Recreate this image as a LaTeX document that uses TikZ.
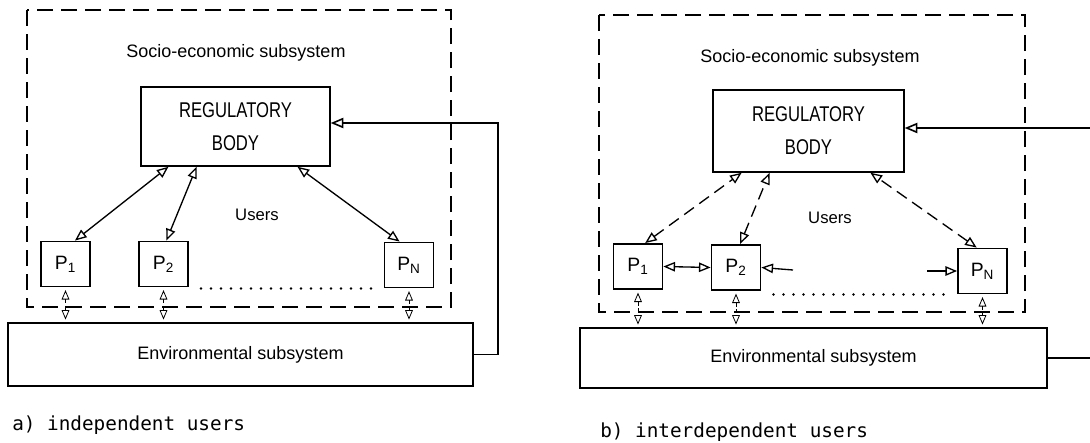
\documentclass[tikz,border=0pt]{standalone}
\usepackage{fontspec}
\setmainfont{Liberation Sans}
\setmonofont{DejaVu Sans Mono}
\usetikzlibrary{arrows}
\newcommand{\regtext}[1]{\scalebox{0.78}[1]{\fontsize{16}{19}\selectfont #1}}
\tikzstyle{box} = [draw, line width=1.2pt, inner sep=0pt, align=center, font=\fontsize{13.5}{16}\selectfont]
\tikzstyle{pbox} = [box, minimum width=37pt, minimum height=34pt, font=\fontsize{14.5}{16}\selectfont]
\tikzstyle{frame} = [line width=1.3pt, dash pattern=on 12pt off 6pt]
\tikzstyle{link} = [line width=1pt, open triangle 45-open triangle 45]
\tikzstyle{flow} = [line width=1pt, -open triangle 45]
\tikzstyle{dlink} = [link, dash pattern=on 9pt off 5pt]
\tikzstyle{vlink} = [line width=0.6pt, densely dashed, open triangle 45-open triangle 45, shorten >=2pt, shorten <=2pt]
\tikzstyle{dots} = [line width=2pt, line cap=round, dash pattern=on 0pt off 7.5pt]
\tikzstyle{txt} = [inner sep=0pt, font=\fontsize{13.5}{16}\selectfont]
\tikzstyle{caption} = [anchor=west, inner sep=0pt, font=\ttfamily\fontsize{14.5}{17}\selectfont]

\begin{document}
\begin{tikzpicture}[x=0.75pt,y=0.75pt,yscale=-1,xscale=1]
\useasboundingbox (0,0) rectangle (1090,443);

%%%% a) independent users
%Shape: Rectangle [socio-economic subsystem]
\draw [frame] (27,10) rectangle (451,307) ;
% Text Node
\node [txt] (seA) at (236,53) {Socio-economic subsystem};
\node [txt, font=\fontsize{12.5}{15}\selectfont] (usersA) at (257,215) {Users};
%Shape: Rectangle
\node [box, minimum width=141.75pt, minimum height=59.25pt] (regA) at (235.5,126.5) {\regtext{REGULATORY}\\[8.75pt]\regtext{BODY}};
\node [pbox] (p1A) at (65.5,264) {P\textsubscript{1}};
\node [pbox] (p2A) at (163.5,264) {P\textsubscript{2}};
\node [pbox] (pnA) at (409,265) {P\textsubscript{N}};
\node [box, minimum width=348.75pt, minimum height=47.25pt] (envA) at (240.5,354.5) {Environmental subsystem};
%Straight Lines
\draw [link] (p1A.68) -- (regA.211) ;
\draw [link] (p2A.83) -- (regA.226) ;
\draw [link] (pnA.112) -- (regA.327) ;
\draw [dots] ([xshift=9pt]p2A.south east |- pnA.south west) -- ([xshift=-9pt]pnA.south west) ;
\draw [vlink] (p1A.south) -- (p1A.south |- envA.north) ;
\draw [vlink] (p2A.south) -- (p2A.south |- envA.north) ;
\draw [vlink] (pnA.south) -- (pnA.south |- envA.north) ;
% feedback
\coordinate (fbA) at (498,123);
\draw [flow, line width=1.2pt] (envA.east) -| (fbA) -- (fbA -| regA.east) ;
% Text Node
\node [caption] (capA) at (12,425) {a) independent users};

%%%% b) interdependent users
%Shape: Rectangle [socio-economic subsystem]
\draw [frame] (599,15) rectangle (1025,312) ;
% Text Node
\node [txt] (seB) at (810,58) {Socio-economic subsystem};
\node [txt, font=\fontsize{12.5}{15}\selectfont] (usersB) at (830,218) {Users};
%Shape: Rectangle
\node [box, minimum width=143.25pt, minimum height=61.5pt] (regB) at (808.5,131) {\regtext{REGULATORY}\\[8.75pt]\regtext{BODY}};
\node [pbox] (p1B) at (638,266.5) {P\textsubscript{1}};
\node [pbox] (p2B) at (736,267.5) {P\textsubscript{2}};
\node [pbox] (pnB) at (982.5,271) {P\textsubscript{N}};
\node [box, minimum width=350.25pt, minimum height=45pt] (envB) at (813.5,358) {Environmental subsystem};
%Straight Lines
\draw [dlink] (p1B.73) -- (regB.212) ;
\draw [dlink] (p2B.80) -- (regB.227) ;
\draw [dlink] (pnB.104) -- (regB.326) ;
\draw [link] (p1B.east) -- (p2B.west) ;
\coordinate (inP2) at (793,270);
\coordinate (inPN) at (927,271);
\draw [flow] (inP2) -- (p2B.east) ;
\draw [flow] (inPN) -- (pnB.west) ;
\draw [dots] ([xshift=9pt]p2B.south east |- pnB.south west) -- ([xshift=-9pt]pnB.south west) ;
\draw [vlink] (p1B.south) -- (p1B.south |- envB.north) ;
\draw [vlink] (p2B.south) -- (p2B.south |- envB.north) ;
\draw [vlink] (pnB.south) -- (pnB.south |- envB.north) ;
% feedback (runs off the page)
\coordinate (fbB1) at (1090,128);
\coordinate (fbB2) at (1090,357);
\draw [flow, line width=1.2pt] (fbB1) -- (fbB1 -| regB.east) ;
\draw [line width=1.2pt] (envB.east) -- (envB.east -| fbB2) ;
% Text Node
\node [caption] (capB) at (600,432) {b) interdependent users};

\end{tikzpicture}
\end{document}
